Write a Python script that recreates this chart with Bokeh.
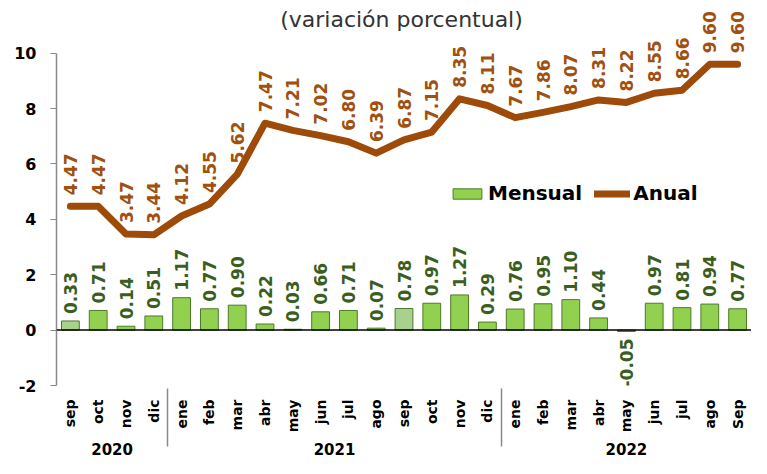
import math
from bokeh.plotting import figure
from bokeh.models import (ColumnDataSource, FactorRange, Span, Legend,
                          LegendItem, FixedTicker, Label)
from bokeh.core.properties import value
from bokeh.embed import file_html
from bokeh.resources import INLINE

years = ["2020"] * 4 + ["2021"] * 12 + ["2022"] * 9
months = ["sep", "oct", "nov", "dic",
          "ene", "feb", "mar", "abr", "may", "jun", "jul", "ago", "sep", "oct", "nov", "dic",
          "ene", "feb", "mar", "abr", "may", "jun", "jul", "ago", "Sep"]
mensual = [0.33, 0.71, 0.14, 0.51,
           1.17, 0.77, 0.90, 0.22, 0.03, 0.66, 0.71, 0.07, 0.78, 0.97, 1.27, 0.29,
           0.76, 0.95, 1.10, 0.44, -0.05, 0.97, 0.81, 0.94, 0.77]
anual = [4.47, 4.47, 3.47, 3.44,
         4.12, 4.55, 5.62, 7.47, 7.21, 7.02, 6.80, 6.39, 6.87, 7.15, 8.35, 8.11,
         7.67, 7.86, 8.07, 8.31, 8.22, 8.55, 8.66, 9.60, 9.60]
y_ticks = [-2, 0, 2, 4, 6, 8, 10]
title_text = "(variación porcentual)"

BAR = "#92D050"
BAR_LIGHT = "#A9D18E"
BAR_EDGE = "#4E7A2A"
BAR_TXT = "#3A5E1E"
LINE = "#9E4A08"
LINE_TXT = "#A0500F"

factors = list(zip(years, months))
bar_colors = [BAR_LIGHT if (i == 0 or i == 12) else BAR for i in range(len(months))]

src = ColumnDataSource(dict(
    x=factors, mensual=mensual, anual=anual,
    atxt=[f"{v:.2f}" for v in anual],
    color=bar_colors,
))
pos_src = ColumnDataSource(dict(
    x=[f for f, v in zip(factors, mensual) if v >= 0],
    y=[v for v in mensual if v >= 0],
    t=[f"{v:.2f}" for v in mensual if v >= 0]))
neg_src = ColumnDataSource(dict(
    x=[f for f, v in zip(factors, mensual) if v < 0],
    y=[v for v in mensual if v < 0],
    t=[f"{v:.2f}" for v in mensual if v < 0]))

xr = FactorRange(*factors, group_padding=0, factor_padding=0, range_padding=0)
p = figure(x_range=xr, y_range=(-2, 11.9), width=751, height=458,
           output_backend="svg", toolbar_location=None,
           min_border_left=56, min_border_right=0, min_border_top=0, min_border_bottom=66)
p.outline_line_color = None
p.background_fill_color = "white"
p.xgrid.visible = False
p.ygrid.visible = False

bars = p.vbar(x="x", top="mensual", width=0.64, source=src, fill_color="color",
              line_color=BAR_EDGE, line_width=1)
ln = p.line(x="x", y="anual", source=src, line_color=LINE, line_width=7,
            line_join="round", line_cap="round")

p.add_layout(Span(location=0, dimension="width", line_color="black", line_width=1.5))

lab_kw = dict(angle=math.pi / 2, text_font=value("DejaVu Sans"), text_font_style="bold",
              text_font_size="17px", text_baseline="middle")
p.text(x="x", y="y", text="t", source=pos_src, text_align="left",
       y_offset=-7, text_color=BAR_TXT, **lab_kw)
p.text(x="x", y="y", text="t", source=neg_src, text_align="right",
       y_offset=7, text_color=BAR_TXT, **lab_kw)
p.text(x="x", y="anual", text="atxt", source=src, text_align="left",
       y_offset=-11, text_color=LINE_TXT, **lab_kw)

p.add_layout(Label(x=345, y=366, x_units="screen", y_units="screen", text=title_text,
                   text_align="center", text_baseline="middle", text_font="DejaVu Sans",
                   text_font_size="22px", text_color="#333333"))

# axes
p.yaxis.ticker = FixedTicker(ticks=y_ticks)
p.yaxis.bounds = (-2, 10)
p.yaxis.major_label_overrides = {t: str(t) for t in y_ticks}
p.yaxis.axis_line_color = "#8a8a8a"
p.yaxis.axis_line_width = 1.5
p.yaxis.major_tick_line_color = "#8a8a8a"
p.yaxis.major_tick_in = 0
p.yaxis.major_tick_out = 6
p.yaxis.minor_tick_line_color = None
p.yaxis.major_label_text_font = "DejaVu Sans"
p.yaxis.major_label_text_font_style = "bold"
p.yaxis.major_label_text_font_size = "16px"
p.yaxis.major_label_text_color = "black"
p.yaxis.major_label_standoff = 14

xa = p.xaxis[0]
xa.axis_line_color = None
xa.major_tick_line_color = None
xa.minor_tick_line_color = None
xa.major_label_orientation = math.pi / 2
xa.major_label_text_font = "DejaVu Sans"
xa.major_label_text_font_style = "bold"
xa.major_label_text_font_size = "14px"
xa.major_label_text_color = "black"
xa.major_label_standoff = 8
xa.group_text_font = "DejaVu Sans"
xa.group_text_font_style = "bold"
xa.group_text_font_size = "15px"
xa.group_text_color = "black"
xa.group_label_orientation = "horizontal"
xa.separator_line_color = "#8a8a8a"
xa.separator_line_width = 1.5

legend = Legend(items=[LegendItem(label="Mensual", renderers=[bars], index=1),
                       LegendItem(label="Anual", renderers=[ln])],
                orientation="horizontal", location=(393, 180),
                label_text_font="DejaVu Sans", label_text_font_style="bold",
                label_text_font_size="20px", label_text_color="black",
                glyph_width=36, glyph_height=13, spacing=12, padding=0, margin=0,
                label_standoff=3, border_line_color=None, background_fill_alpha=0)
p.add_layout(legend)

open("out.html", "w").write(file_html(p, INLINE))
